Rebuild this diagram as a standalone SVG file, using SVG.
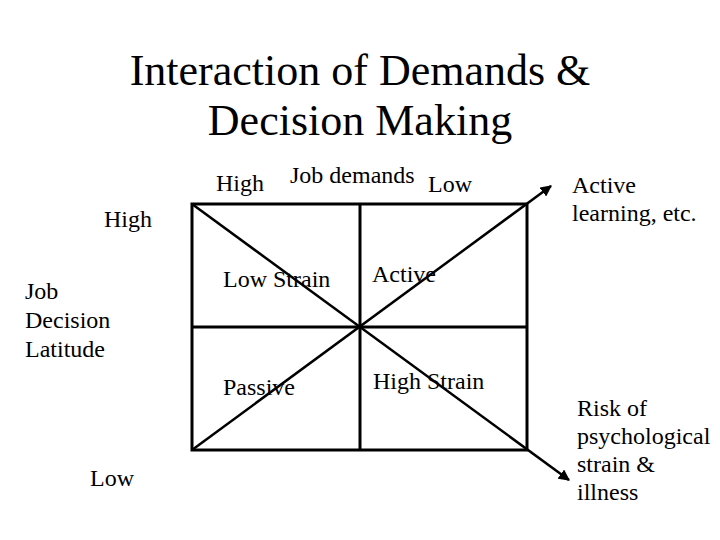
<svg xmlns="http://www.w3.org/2000/svg" width="720" height="540" viewBox="0 0 720 540" font-family="'Liberation Serif', 'DejaVu Serif', serif">
<style>
text{font-family:'Liberation Serif','DejaVu Serif',serif;fill:#000}
.t{font-size:44px}
.b{font-size:24px}
.ln{stroke:#000;stroke-width:3;fill:none}
.d{stroke:#000;stroke-width:2.5;fill:none}
</style>
<defs>
<marker id="ah" viewBox="0 0 10 10" refX="9" refY="5" markerWidth="4.5" markerHeight="4.5" orient="auto" markerUnits="strokeWidth">
<path d="M0,0 L10,5 L0,10 Z" fill="#000"/>
</marker>
</defs>
<rect width="720" height="540" fill="#fff"/>
<g id="title">
<text class="t" x="360" y="85" text-anchor="middle">Interaction of Demands &amp;</text>
<text class="t" x="360" y="135" text-anchor="middle">Decision Making</text>
</g>
<g id="grid">
<rect class="ln" x="192" y="204" width="335" height="246"/>
<line class="ln" x1="360" y1="204" x2="360" y2="450"/>
<line class="ln" x1="192" y1="327" x2="527" y2="327"/>
</g>
<g id="connectors">
<line class="d" x1="192" y1="450" x2="551" y2="186" marker-end="url(#ah)"/>
<line class="d" x1="192" y1="204" x2="569" y2="480" marker-end="url(#ah)"/>
</g>
<g id="axis-top">
<text class="b" x="216" y="191">High</text>
<text class="b" x="290" y="183">Job demands</text>
<text class="b" x="428" y="192">Low</text>
</g>
<g id="axis-left">
<text class="b" x="104" y="227">High</text>
<text class="b" x="25" y="299">Job</text>
<text class="b" x="25" y="328">Decision</text>
<text class="b" x="25" y="357">Latitude</text>
<text class="b" x="90" y="486">Low</text>
</g>
<g id="quadrants">
<text class="b" x="223" y="287">Low Strain</text>
<text class="b" x="372" y="282">Active</text>
<text class="b" x="223" y="395">Passive</text>
<text class="b" x="373" y="389">High Strain</text>
</g>
<g id="outcome-top">
<text class="b" x="572" y="193">Active</text>
<text class="b" x="572" y="221">learning, etc.</text>
</g>
<g id="outcome-bottom">
<text class="b" x="577" y="416">Risk of</text>
<text class="b" x="577" y="444">psychological</text>
<text class="b" x="577" y="472">strain &amp;</text>
<text class="b" x="577" y="500">illness</text>
</g>
</svg>
